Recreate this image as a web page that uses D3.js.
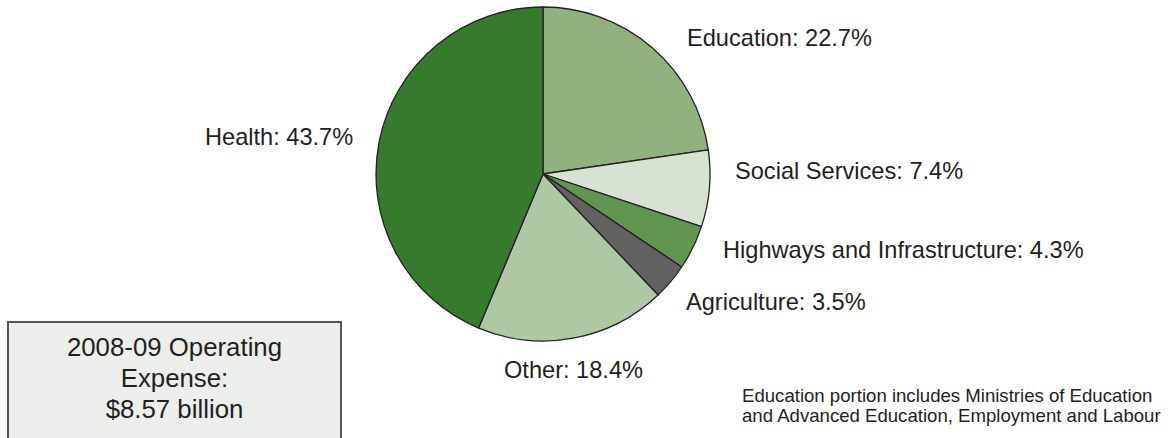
<!DOCTYPE html>
<html>
<head>
<meta charset="utf-8">
<script src="https://cdn.jsdelivr.net/npm/d3@7"></script>
<style>
  html, body { margin: 0; padding: 0; background: #fff; }
  svg { display: block; font-family: "Liberation Sans", Arial, Helvetica, sans-serif; }
</style>
</head>
<body>
<svg id="chart" width="1168" height="438"></svg>
<script>
const categories = ["Education", "Social Services", "Highways and Infrastructure", "Agriculture", "Other", "Health"];
const values = [22.7, 7.4, 4.3, 3.5, 18.4, 43.7];
const colors = ["#8fb27f", "#d7e3d1", "#609650", "#626262", "#adc8a3", "#367a2e"];
const boxLines = ["2008-09 Operating", "Expense:", "$8.57 billion"];
const noteLines = ["Education portion includes Ministries of Education", "and Advanced Education, Employment and Labour"];

// label placement (text anchor start x, baseline y)
const labelPos = [
  [687, 46], [735, 179], [723, 258], [686, 310], [504, 378], [205, 145]
];

const svg = d3.select("#chart");
const cx = 543, cy = 174, r = 167;

const data = categories.map((c, i) => ({ name: c, value: values[i], color: colors[i] }));
const pie = d3.pie().sort(null).value(d => d.value);
const arc = d3.arc().innerRadius(0).outerRadius(r);

const g = svg.append("g").attr("transform", `translate(${cx},${cy})`);
g.selectAll("path")
  .data(pie(data))
  .join("path")
  .attr("d", arc)
  .attr("fill", d => d.data.color)
  .attr("stroke", "#222")
  .attr("stroke-width", 1.3)
  .attr("stroke-linejoin", "round");

svg.selectAll("text.lbl")
  .data(data)
  .join("text")
  .attr("class", "lbl")
  .attr("x", (d, i) => labelPos[i][0])
  .attr("y", (d, i) => labelPos[i][1])
  .attr("font-size", 23.6)
  .attr("fill", "#231f20")
  .text(d => `${d.name}: ${d.value.toFixed(1)}%`);

// Box
svg.append("rect")
  .attr("x", 8).attr("y", 322)
  .attr("width", 333).attr("height", 130)
  .attr("fill", "#eceeeb")
  .attr("stroke", "#555")
  .attr("stroke-width", 2);

svg.selectAll("text.box")
  .data(boxLines)
  .join("text")
  .attr("class", "box")
  .attr("x", 174.5)
  .attr("y", (d, i) => 356 + i * 31)
  .attr("text-anchor", "middle")
  .attr("font-size", 25.8)
  .attr("fill", "#231f20")
  .text(d => d);

svg.selectAll("text.note")
  .data(noteLines)
  .join("text")
  .attr("class", "note")
  .attr("x", 742)
  .attr("y", (d, i) => 402 + i * 20)
  .attr("font-size", 18.6)
  .attr("fill", "#231f20")
  .text(d => d);
</script>
</body>
</html>
